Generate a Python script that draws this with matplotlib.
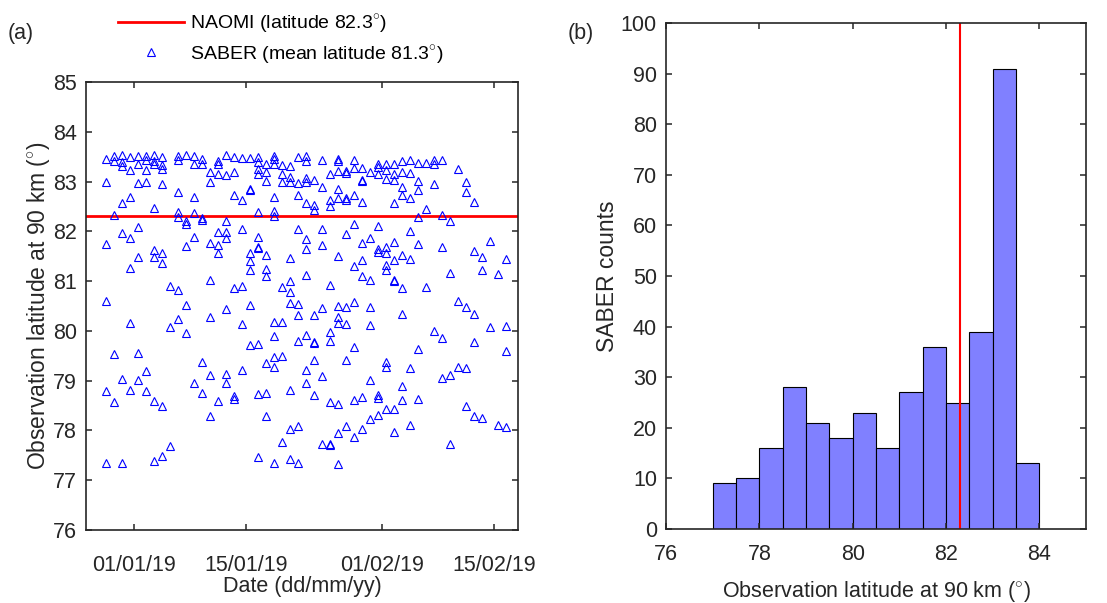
import numpy as np
import matplotlib
matplotlib.use('Agg')
import matplotlib.pyplot as plt
import matplotlib.dates as mdates

plt.rcParams['font.family'] = ['Liberation Sans', 'DejaVu Sans']
plt.rcParams['mathtext.fontset'] = 'custom'
plt.rcParams['mathtext.rm'] = 'Liberation Sans'

### Data ###

naomi_lat = 82.3  # NAOMI latitude [deg]
saber_mean = 81.3  # SABER mean latitude [deg]

# SABER points: day offset from 01/01/19 and latitude at 90 km [deg]
obs_day = [
    -4, -4, -4, -4, -4, -4,
    -3, -3, -3, -3, -3,
    -2, -2, -2, -2, -2, -2, -2,
    -1, -1, -1, -1, -1, -1, -1,
    0, 0, 0, 0, 0, 0, 0,
    1, 1, 1, 1, 1, 1,
    2, 2, 2, 2, 2, 2, 2, 2,
    3, 3, 3, 3, 3, 3, 3, 3,
    4, 4, 4,
    5, 5, 5, 5, 5, 5, 5,
    6, 6, 6, 6, 6, 6,
    7, 7, 7, 7, 7, 7,
    8, 8, 8, 8, 8, 8,
    9, 9, 9, 9, 9, 9, 9,
    10, 10, 10, 10, 10, 10, 10,
    11, 11, 11, 11, 11, 11, 11, 11,
    12, 12, 12, 12, 12, 12,
    13, 13, 13, 13, 13, 13,
    14, 14, 14, 14, 14, 14, 14, 14,
    15, 15, 15, 15, 15, 15, 15, 15, 15, 15, 15,
    16, 16, 16, 16, 16, 16, 16, 16, 16,
    17, 17, 17, 17, 17, 17, 17, 17, 17, 17, 17,
    18, 18, 18, 18, 18, 18, 18,
    19, 19, 19, 19, 19, 19, 19, 19, 19, 19,
    20, 20, 20, 20, 20, 20, 20, 20, 20,
    21, 21, 21, 21, 21, 21, 21, 21, 21, 21, 21,
    22, 22, 22, 22, 22, 22, 22, 22,
    23, 23, 23, 23, 23, 23, 23,
    24, 24, 24, 24, 24, 24, 24, 24, 24,
    25, 25, 25, 25, 25, 25, 25, 25, 25, 25, 25, 25,
    26, 26, 26, 26, 26, 26, 26, 26, 26,
    27, 27, 27, 27, 27, 27, 27, 27, 27,
    28, 28, 28, 28, 28, 28, 28, 28, 28,
    29, 29, 29, 29, 29, 29, 29,
    30, 30, 30, 30, 30, 30, 30, 30, 30,
    31, 31, 31, 31, 31, 31, 31, 31, 31, 31,
    32, 32, 32, 32, 32, 32, 32, 32, 32, 32,
    33, 33, 33, 33, 33, 33, 33, 33, 33,
    34, 34, 34, 34, 34, 34, 34,
    35, 35, 35, 35, 35, 35, 35,
    36, 36, 36,
    37, 37, 37, 37,
    38, 38, 38, 38, 38,
    39, 39, 39, 39,
    40, 40, 40,
    41, 41, 41, 41, 41,
    42, 42, 42, 42, 42,
    43, 43, 43,
    44, 44,
    45, 45,
    46, 46, 46, 46,
]
obs_lat = [
    83.46, 82.99, 81.74, 80.60, 78.79, 77.35,
    83.51, 83.41, 82.33, 79.53, 78.58,
    83.53, 83.40, 83.31, 82.56, 81.96, 79.03, 77.35,
    83.50, 83.23, 82.68, 81.86, 81.27, 80.15, 78.82,
    83.51, 83.36, 82.97, 82.08, 81.48, 79.55, 79.01,
    83.51, 83.44, 83.24, 82.99, 79.19, 78.79,
    83.53, 83.36, 83.42, 82.46, 81.62, 81.48, 78.59, 77.39,
    83.50, 83.33, 83.26, 82.95, 81.56, 81.37, 78.50, 77.49,
    80.90, 80.08, 77.69,
    83.51, 83.43, 82.79, 82.39, 82.29, 80.83, 80.24,
    83.53, 82.21, 82.14, 81.70, 80.53, 79.96,
    83.51, 83.35, 82.68, 82.37, 81.89, 78.96,
    83.46, 83.35, 82.26, 82.22, 79.37, 78.76,
    83.20, 82.99, 81.76, 81.02, 80.28, 79.11, 78.30,
    83.41, 83.36, 83.16, 81.99, 81.72, 81.56, 78.60,
    83.53, 83.13, 82.21, 81.99, 81.86, 80.43, 79.13, 78.95,
    83.50, 83.20, 82.73, 80.87, 78.63, 78.70,
    83.48, 82.63, 82.04, 80.90, 80.14, 79.21,
    83.48, 82.83, 82.85, 81.57, 81.41, 81.22, 80.53, 79.71,
    83.50, 83.40, 83.26, 83.16, 82.39, 81.89, 81.68, 81.66, 79.73, 78.73, 77.47,
    83.35, 83.20, 83.01, 81.52, 81.25, 81.10, 79.35, 78.76, 78.30,
    83.51, 83.45, 83.35, 82.69, 82.41, 82.31, 80.18, 79.90, 79.48, 79.28, 77.35,
    83.33, 83.16, 82.99, 80.89, 80.18, 79.49, 77.76,
    83.31, 83.09, 82.99, 81.46, 80.79, 81.01, 80.56, 78.82, 78.03, 77.42,
    83.50, 82.98, 82.73, 82.04, 80.54, 80.32, 79.80, 78.09, 77.34,
    83.51, 83.42, 83.07, 82.99, 82.56, 81.84, 81.64, 81.12, 79.92, 79.21, 78.96,
    83.04, 82.53, 82.42, 80.32, 79.75, 79.78, 79.41, 78.72,
    83.43, 82.89, 82.04, 81.72, 80.45, 79.10, 77.73,
    83.15, 82.63, 82.51, 80.93, 79.98, 79.80, 78.58, 77.73, 77.70,
    83.46, 83.42, 83.21, 82.86, 82.66, 81.50, 80.50, 80.27, 80.15, 78.54, 77.95, 77.32,
    83.17, 83.21, 82.66, 82.63, 81.94, 80.47, 80.14, 79.41, 78.09,
    83.44, 83.27, 82.73, 82.14, 81.30, 80.59, 79.68, 78.61, 77.87,
    83.28, 83.03, 83.01, 82.59, 81.77, 81.42, 81.10, 78.68, 78.03,
    83.20, 81.87, 81.02, 80.48, 80.12, 79.01, 78.23,
    83.35, 83.30, 83.16, 82.10, 81.64, 81.59, 78.71, 78.66, 78.31,
    83.36, 83.23, 83.06, 81.69, 81.57, 81.32, 81.23, 79.37, 79.28, 78.44,
    83.35, 83.16, 83.03, 82.56, 81.78, 81.42, 81.03, 81.01, 78.44, 77.97,
    83.42, 83.20, 82.89, 82.73, 81.52, 80.87, 80.34, 78.89, 78.61,
    83.44, 83.18, 82.67, 82.01, 81.44, 79.25, 78.10,
    83.38, 83.01, 82.83, 82.28, 81.74, 79.63, 78.63,
    83.38, 82.44, 80.89,
    83.44, 83.35, 82.96, 80.00,
    83.44, 82.33, 81.68, 79.86, 79.05,
    82.21, 81.17, 79.11, 77.73,
    83.26, 80.60, 79.27,
    82.99, 82.79, 80.47, 79.25, 78.49,
    82.59, 81.60, 80.34, 79.78, 78.30,
    81.49, 81.22, 78.24,
    81.81, 80.08,
    81.14, 78.11,
    81.44, 80.10, 79.60, 78.07,
]

# Histogram of SABER latitudes (panel b)
bin_edges = [77.0, 77.5, 78.0, 78.5, 79.0, 79.5, 80.0, 80.5, 81.0, 81.5, 82.0, 82.5, 83.0, 83.5, 84.0]
counts = [9, 10, 16, 28, 21, 18, 23, 16, 27, 36, 25, 39, 91, 13]

date_ticks = ['2019-01-01', '2019-01-15', '2019-02-01', '2019-02-15']

### Plot ###

fs = 15.5      # tick labels
fs_lab = 16.5  # axis labels
fs_leg = 14    # legend
dark = '#262626'
deg = r'$^{\circ}$'

fig = plt.figure(figsize=(11.07, 6.03), dpi=100)
ax1 = fig.add_axes([86/1107, 1 - 530/603, 432/1107, 448/603])
ax2 = fig.add_axes([666/1107, 1 - 529/603, 420/1107, 506/603])

# (a) latitude vs date
dates = np.datetime64('2019-01-01T12:00') + np.array(obs_day) * np.timedelta64(1, 'D')
ln, = ax1.plot([np.datetime64('2018-12-26'), np.datetime64('2019-02-18')], [naomi_lat, naomi_lat],
               color='r', lw=2, label='NAOMI (latitude %.1f%s)' % (naomi_lat, deg))
pts, = ax1.plot(dates, obs_lat, '^', color='b', mfc='none', ms=6, mew=0.8,
                label='SABER (mean latitude %.1f%s)' % (saber_mean, deg))

ax1.set_xlim(np.datetime64('2018-12-26'), np.datetime64('2019-02-18'))
ax1.set_ylim(76, 85)
ax1.set_yticks(np.arange(76, 86, 1))
ax1.set_xticks([np.datetime64(d) for d in date_ticks])
ax1.xaxis.set_major_formatter(mdates.DateFormatter('%d/%m/%y'))
ax1.set_xlabel('Date (dd/mm/yy)', fontsize=fs, color=dark, labelpad=0)
ax1.set_ylabel('Observation latitude at 90 km (' + deg + ')', fontsize=fs_lab, color=dark, labelpad=1)

ax1.legend(handles=[ln, pts], loc='upper left', bbox_to_anchor=(118/1107, 1 - 12/603),
           bbox_transform=fig.transFigure, frameon=False, borderpad=0, borderaxespad=0,
           handlelength=3.4, handletextpad=0.3, labelspacing=0.4, numpoints=1, fontsize=fs_leg)

# (b) histogram
ax2.bar(bin_edges[:-1], counts, width=np.diff(bin_edges), align='edge',
        color='#8080ff', edgecolor='k', lw=0.8)
ax2.axvline(naomi_lat, color='r', lw=1.5)
ax2.set_xlim(76, 85)
ax2.set_ylim(0, 100)
ax2.set_xticks(np.arange(76, 85, 2))
ax2.set_yticks(np.arange(0, 101, 10))
ax2.set_xlabel('Observation latitude at 90 km (' + deg + ')', fontsize=fs, color=dark, labelpad=10)
ax2.set_ylabel('SABER counts', fontsize=fs_lab, color=dark, labelpad=1)

for ax in (ax1, ax2):
    ax.tick_params(direction='in', top=True, right=True, length=4, width=1.1,
                   labelsize=fs, colors=dark)
    ax.tick_params(axis='y', pad=6.5)
    for sp in ax.spines.values():
        sp.set_linewidth(1.2)
        sp.set_color(dark)
ax1.tick_params(axis='x', pad=18)
ax2.tick_params(axis='x', pad=11)

fig.text(8/1107, 1 - 34/603, '(a)', fontsize=fs, va='center', color=dark)
fig.text(568/1107, 1 - 33/603, '(b)', fontsize=fs, va='center', color=dark)

fig.savefig('out.png', dpi=100)
